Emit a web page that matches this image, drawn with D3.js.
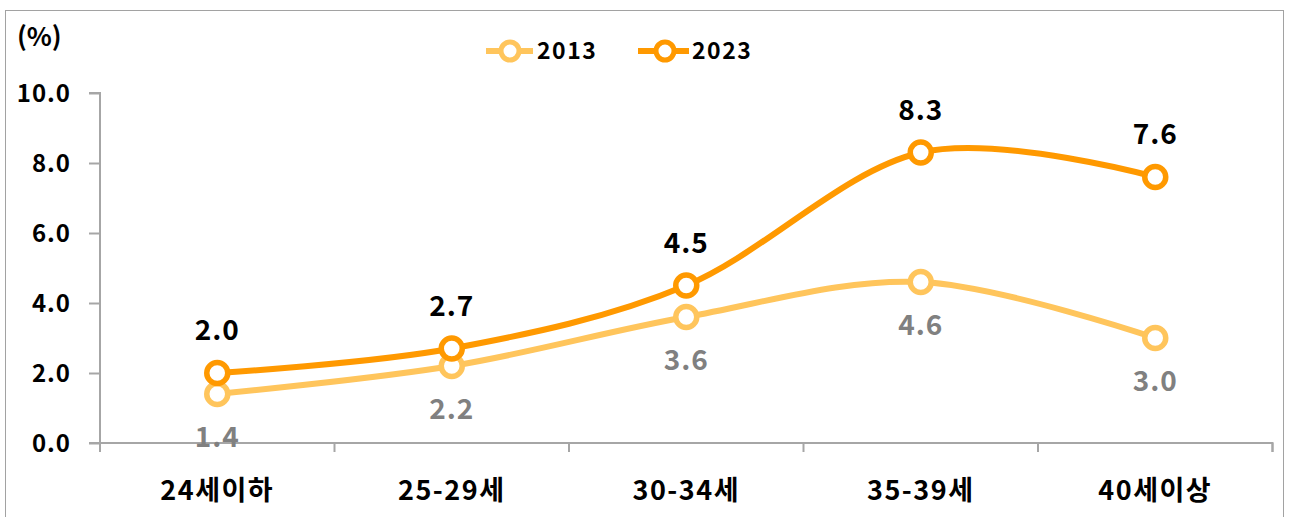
<!DOCTYPE html>
<html><head><meta charset="utf-8">
<script src="https://cdn.jsdelivr.net/npm/d3@7"></script>
<style>
html,body{margin:0;padding:0;background:#fff;}
svg text{font-family:"Noto Sans CJK KR","Noto Sans",sans-serif;font-weight:bold;}
</style></head>
<body>
<svg id="c" width="1289" height="517"></svg>
<script>
const categories = ["24세이하","25-29세","30-34세","35-39세","40세이상"];
const values2013 = [1.4, 2.2, 3.6, 4.6, 3.0];
const values2023 = [2.0, 2.7, 4.5, 8.3, 7.6];
const seriesNames = ["2013","2023"];
const yTicks = [0,2,4,6,8,10];

const colors = {"2013":"#FFC55C","2023":"#FF9900"};
const svg = d3.select("#c");

// border
svg.append("rect").attr("x",5.5).attr("y",10.5).attr("width",1278).attr("height",520)
  .attr("fill","none").attr("stroke","#444").attr("stroke-width",1).attr("stroke-dasharray","1,1");

const x = d3.scaleBand().domain(categories).range([100,1272.5]);
const y = d3.scaleLinear().domain([0,10]).range([443,93]);

// y axis
const yAxis = svg.append("g").attr("transform","translate(100,0)")
  .call(d3.axisLeft(y).tickValues(yTicks).tickSize(11).tickPadding(18).tickFormat(d3.format(".1f")));
yAxis.select(".domain").attr("stroke","#A6A6A6").attr("stroke-width",2).attr("d","M-11,93H0V443");
yAxis.selectAll(".tick line").attr("stroke","#A6A6A6").attr("stroke-width",2);
yAxis.selectAll(".tick text").attr("font-size",24).attr("letter-spacing",1).attr("fill","#000").attr("dy","0.36em");

// x axis
const xAxis = svg.append("g").attr("transform","translate(0,443)")
  .call(d3.axisBottom(x).tickSize(0).tickPadding(47));
xAxis.select(".domain").attr("stroke","#A6A6A6").attr("stroke-width",2).attr("d","M89,0H1272.5V9");
xAxis.selectAll(".tick text").attr("font-size",27).attr("letter-spacing",1.5).attr("fill","#000").attr("dy","0.36em");
// category boundary ticks
const bounds = categories.map(c=>x(c)).concat([x.range()[1]]);
xAxis.selectAll(".bt").data(bounds).enter().append("line").attr("class","bt")
  .attr("x1",d=>d).attr("x2",d=>d).attr("y1",0).attr("y2",9)
  .attr("stroke","#A6A6A6").attr("stroke-width",2);

const cx = c => x(c) + x.bandwidth()/2;
const line = d3.line().x(d=>cx(d.c)).y(d=>y(d.v)).curve(d3.curveCardinal.tension(0));

const series = [
  {name:"2013", vals:values2013, labelColor:"#808080", dy:43},
  {name:"2023", vals:values2023, labelColor:"#000", dy:-43}
];
series.forEach(s=>{
  const pts = categories.map((c,i)=>({c, v:s.vals[i]}));
  svg.append("path").datum(pts).attr("d",line).attr("fill","none")
    .attr("stroke",colors[s.name]).attr("stroke-width",6);
  svg.selectAll(null).data(pts).enter().append("circle")
    .attr("cx",d=>cx(d.c)).attr("cy",d=>y(d.v)).attr("r",10.5)
    .attr("fill","#fff").attr("stroke",colors[s.name]).attr("stroke-width",5.5);
  svg.selectAll(null).data(pts).enter().append("text")
    .attr("x",d=>cx(d.c)).attr("y",d=>y(d.v)+s.dy).attr("dy","0.36em")
    .attr("text-anchor","middle").attr("font-size",28).attr("letter-spacing",1).attr("fill",s.labelColor)
    .text(d=>d.v.toFixed(1));
});

// legend
const legendX = {"2013":[486,533,510,537],"2023":[638,689,665,692]};
seriesNames.forEach(n=>{
  const [x1,x2,mx,tx] = legendX[n];
  svg.append("line").attr("x1",x1).attr("x2",x2).attr("y1",51).attr("y2",51)
    .attr("stroke",colors[n]).attr("stroke-width",6);
  svg.append("circle").attr("cx",mx).attr("cy",51).attr("r",9)
    .attr("fill","#fff").attr("stroke",colors[n]).attr("stroke-width",5);
  svg.append("text").attr("x",tx).attr("y",51).attr("dy","0.36em")
    .attr("font-size",23).attr("letter-spacing",1.5).attr("fill","#000").text(n);
});

// unit
svg.append("text").attr("x",17).attr("y",37).attr("dy","0.36em")
  .attr("font-size",26).attr("fill","#000").text("(%)");
</script>
</body></html>
